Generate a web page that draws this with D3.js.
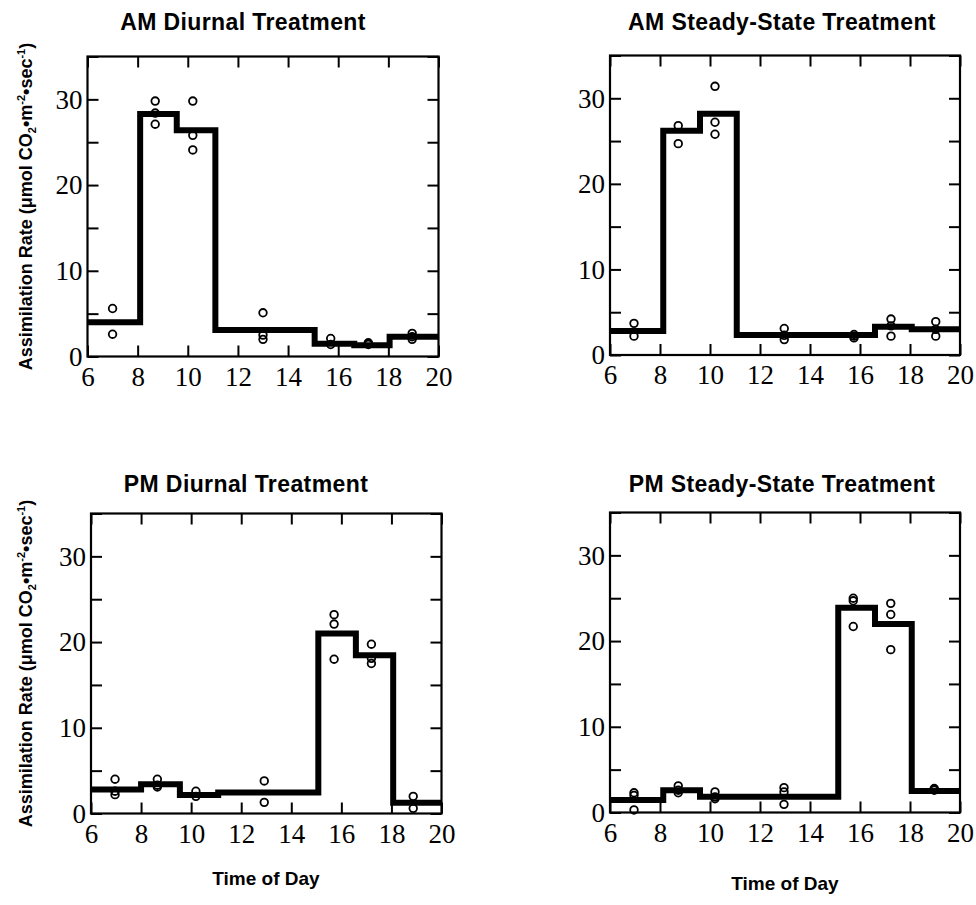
<!DOCTYPE html>
<html><head><meta charset="utf-8">
<script src="https://cdn.jsdelivr.net/npm/d3@7"></script>
<style>
body{margin:0;background:#fff;}
svg{display:block;}
</style></head>
<body>
<svg id="chart" width="976" height="905"></svg>
<script>
// ---------- data ----------
const xTickValues = [6, 8, 10, 12, 14, 16, 18, 20];
const yTickValues = [0, 5, 10, 15, 20, 25, 30, 35];
const yLabelValues = [0, 10, 20, 30];
const titles = ["AM Diurnal Treatment", "AM Steady-State Treatment", "PM Diurnal Treatment", "PM Steady-State Treatment"];
const xTitle = "Time of Day";

// AM Diurnal
const amDiurnalEdges = [6, 8.1, 9.56, 11.1, 15.06, 16.64, 18.05, 20];
const amDiurnalMeans = [4.0, 28.3, 26.4, 3.1, 1.5, 1.3, 2.3];
const amDiurnalTimes = [7.0, 7.0, 8.7, 8.7, 8.7, 10.2, 10.2, 10.2, 13.0, 13.0, 13.0, 15.7, 15.7, 17.2, 17.2, 17.2, 18.95, 18.95, 18.95];
const amDiurnalRates = [5.6, 2.6, 29.8, 28.4, 27.1, 29.8, 25.8, 24.1, 5.1, 2.5, 2.0, 2.1, 1.4, 1.5, 1.6, 1.4, 2.7, 2.0, 2.3];

// AM Steady-State
const amSteadyEdges = [6, 8.13, 9.6, 11.07, 16.6, 18.07, 20];
const amSteadyMeans = [2.8, 26.2, 28.2, 2.35, 3.3, 3.0];
const amSteadyTimes = [6.96, 6.96, 8.73, 8.73, 10.2, 10.2, 10.2, 12.97, 12.97, 12.97, 15.76, 15.76, 15.76, 17.24, 17.24, 17.24, 19.03, 19.03, 19.03];
const amSteadyRates = [3.7, 2.2, 26.8, 24.7, 31.4, 27.2, 25.8, 3.1, 1.8, 2.3, 2.2, 2.0, 2.4, 4.2, 2.2, 3.4, 3.9, 2.2, 3.0];

// PM Diurnal
const pmDiurnalEdges = [6, 8.0, 9.55, 11.08, 15.08, 16.58, 18.07, 20];
const pmDiurnalMeans = [2.8, 3.4, 2.15, 2.45, 21.0, 18.45, 1.25];
const pmDiurnalTimes = [6.96, 6.96, 6.96, 8.65, 8.65, 8.65, 10.19, 10.19, 12.92, 12.92, 15.71, 15.71, 15.71, 17.2, 17.2, 17.2, 18.87, 18.87];
const pmDiurnalRates = [4.0, 2.2, 2.6, 4.0, 3.1, 3.3, 2.6, 2.0, 3.8, 1.3, 23.2, 22.1, 18.0, 19.75, 18.1, 17.5, 2.0, 0.6];

// PM Steady-State
const pmSteadyEdges = [6, 8.13, 9.6, 15.13, 16.6, 18.07, 20];
const pmSteadyMeans = [1.45, 2.6, 1.85, 23.9, 22.0, 2.5];
const pmSteadyTimes = [6.96, 6.96, 6.96, 8.73, 8.73, 8.73, 10.2, 10.2, 10.2, 12.96, 12.96, 12.96, 15.73, 15.73, 15.73, 17.23, 17.23, 17.23, 18.97, 18.97, 18.97];
const pmSteadyRates = [2.3, 0.3, 2.0, 3.1, 2.3, 2.6, 2.4, 1.6, 1.8, 2.9, 2.4, 0.95, 25.0, 24.7, 21.7, 24.4, 23.1, 19.0, 2.7, 2.6, 2.8];

// ---------- layout ----------
const panels = [
  {title: titles[0], edges: amDiurnalEdges, means: amDiurnalMeans, times: amDiurnalTimes, rates: amDiurnalRates,
   x0: 87.5, x1: 438.5, yB: 356.5, yT: 56.5, titleX: 243, titleY: 30, yLab: true, xLab: false},
  {title: titles[1], edges: amSteadyEdges, means: amSteadyMeans, times: amSteadyTimes, rates: amSteadyRates,
   x0: 610, x1: 960, yB: 355, yT: 55.5, titleX: 782, titleY: 30, yLab: false, xLab: false},
  {title: titles[2], edges: pmDiurnalEdges, means: pmDiurnalMeans, times: pmDiurnalTimes, rates: pmDiurnalRates,
   x0: 91, x1: 441.5, yB: 813.5, yT: 513.5, titleX: 246, titleY: 492, yLab: true, xLab: true, xLabX: 266, xLabY: 885},
  {title: titles[3], edges: pmSteadyEdges, means: pmSteadyMeans, times: pmSteadyTimes, rates: pmSteadyRates,
   x0: 610, x1: 960, yB: 812.5, yT: 512.5, titleX: 782, titleY: 492, yLab: false, xLab: true, xLabX: 785, xLabY: 890}
];

const svg = d3.select("#chart");
const serif = "'Liberation Serif', 'Times New Roman', serif";
const sans = "'Liberation Sans', Arial, Helvetica, sans-serif";

panels.forEach(p => {
  const x = d3.scaleLinear().domain([6, 20]).range([p.x0, p.x1]);
  const y = d3.scaleLinear().domain([0, 35]).range([p.yB, p.yT]);
  const g = svg.append("g");

  const bx = g.append("g").attr("transform", `translate(0,${p.yB})`)
    .call(d3.axisBottom(x).tickValues(xTickValues).tickSizeInner(-11).tickSizeOuter(0).tickPadding(10).tickFormat(d3.format("d")));
  const tx = g.append("g").attr("transform", `translate(0,${p.yT})`)
    .call(d3.axisTop(x).tickValues(xTickValues).tickSizeInner(-11).tickSizeOuter(0).tickFormat(""));
  const ly = g.append("g").attr("transform", `translate(${p.x0},0)`)
    .call(d3.axisLeft(y).tickValues(yTickValues).tickSizeInner(-11).tickSizeOuter(0).tickPadding(5)
      .tickFormat(d => yLabelValues.includes(d) ? d : ""));
  const ry = g.append("g").attr("transform", `translate(${p.x1},0)`)
    .call(d3.axisRight(y).tickValues(yTickValues).tickSizeInner(-11).tickSizeOuter(0).tickFormat(""));

  [bx, tx, ly, ry].forEach(a => {
    a.select(".domain").remove();
    a.selectAll(".tick line").attr("stroke", "#000").attr("stroke-width", 2);
    a.selectAll(".tick text").attr("font-family", serif).attr("font-size", 27).attr("fill", "#000");
  });
  ly.selectAll(".tick text").attr("dy", "0.33em");

  g.append("rect").attr("x", p.x0).attr("y", p.yT).attr("width", p.x1 - p.x0).attr("height", p.yB - p.yT)
    .attr("fill", "none").attr("stroke", "#000").attr("stroke-width", 2.2);

  const stepPts = p.means.map((v, i) => [p.edges[i], v]);
  stepPts.push([p.edges[p.edges.length - 1], p.means[p.means.length - 1]]);
  const line = d3.line().x(d => x(d[0])).y(d => y(d[1])).curve(d3.curveStepAfter);
  g.append("path").attr("d", line(stepPts)).attr("fill", "none").attr("stroke", "#000")
    .attr("stroke-width", 6).attr("stroke-linejoin", "miter").attr("stroke-linecap", "butt");

  g.selectAll("circle.pt").data(p.times.map((t, i) => [t, p.rates[i]])).join("circle")
    .attr("class", "pt").attr("cx", d => x(d[0])).attr("cy", d => y(d[1])).attr("r", 3.8)
    .attr("fill", "none").attr("stroke", "#000").attr("stroke-width", 1.8);

  g.append("text").attr("x", p.titleX).attr("y", p.titleY).attr("text-anchor", "middle")
    .attr("font-family", sans).attr("font-weight", "bold").attr("font-size", 23)
    .attr("letter-spacing", 0.4).text(p.title);

  if (p.yLab) {
    const cy = (p.yB + p.yT) / 2;
    const t = g.append("text").attr("transform", `translate(32,${cy}) rotate(-90)`).attr("text-anchor", "middle")
      .attr("font-family", sans).attr("font-weight", "bold").attr("font-size", 18);
    t.append("tspan").text("Assimilation Rate (\u03BCmol CO");
    t.append("tspan").attr("font-size", 11).attr("dy", 4).text("2");
    t.append("tspan").attr("dy", -4).text("\u2022m");
    t.append("tspan").attr("font-size", 11).attr("dy", -7).text("-2");
    t.append("tspan").attr("dy", 7).text("\u2022sec");
    t.append("tspan").attr("font-size", 11).attr("dy", -7).text("-1");
    t.append("tspan").attr("dy", 7).text(")");
  }
  if (p.xLab) {
    g.append("text").attr("x", p.xLabX).attr("y", p.xLabY).attr("text-anchor", "middle")
      .attr("font-family", sans).attr("font-weight", "bold").attr("font-size", 19).text(xTitle);
  }
});
</script>
</body></html>
